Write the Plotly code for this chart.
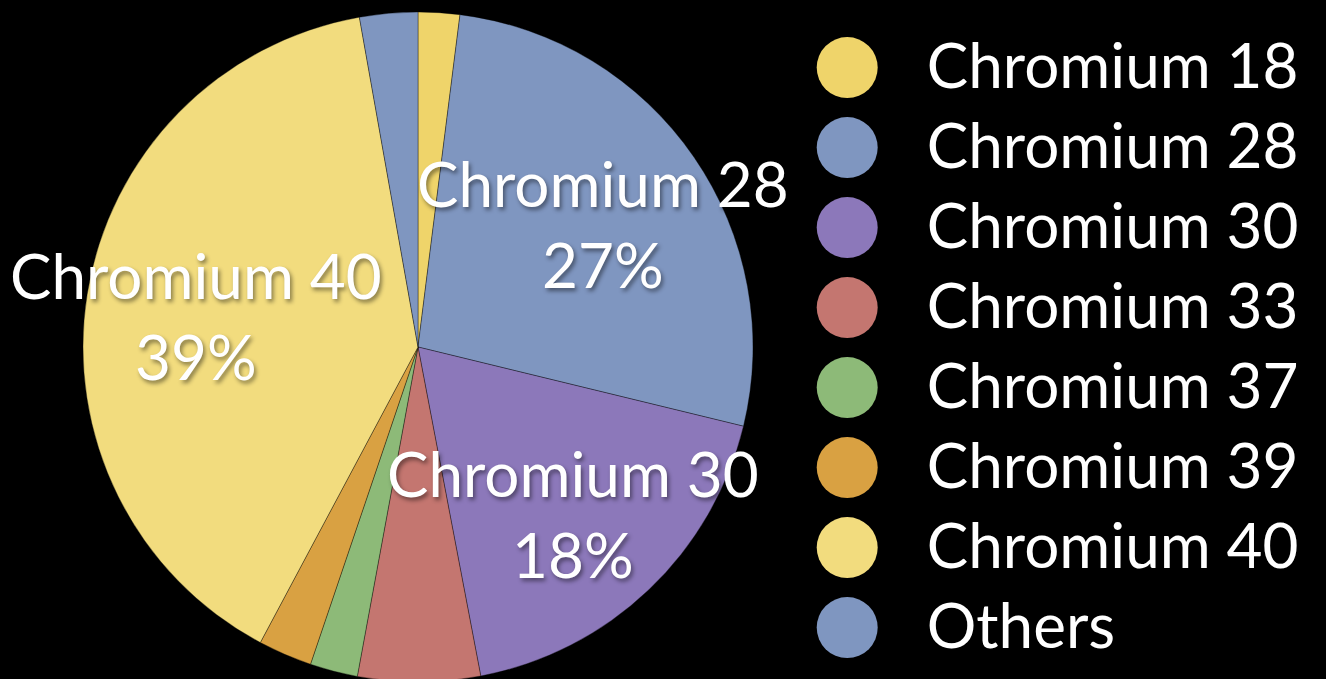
import math

import plotly.graph_objects as go

labels = ["Chromium 18", "Chromium 28", "Chromium 30", "Chromium 33",
          "Chromium 37", "Chromium 39", "Chromium 40", "Others"]
shares = [2.0, 26.8, 18.2, 5.9, 2.3, 2.6, 39.4, 2.8]
colors = ["#EFD46A", "#7F96C0", "#8C78BA", "#C47670",
          "#8DBA78", "#D9A142", "#F2DC7E", "#7F96C0"]

W, H = 1326, 682
TOP = 12
FONT = "Lato, 'Open Sans', sans-serif"
TEXT_SIZE = 62

fig = go.Figure()

fig.add_trace(go.Pie(
    labels=labels,
    values=shares,
    sort=False,
    direction="clockwise",
    rotation=0,
    marker=dict(colors=colors, line=dict(color="rgba(0,0,0,0.35)", width=1)),
    textinfo="none",
    hoverinfo="label+percent",
    showlegend=False,
    domain=dict(x=[0, 836 / W], y=[0, 1]),
))

# slice labels for the big slices, placed along each slice's mid-angle
total = sum(shares)
cx, cy = 418, TOP + (H - TOP) / 2
radius = (H - TOP) / 2
start = 0.0
for name, v in zip(labels, shares):
    frac = v / total
    mid = (start + frac / 2) * 2 * math.pi
    start += frac
    if frac < 0.10:
        continue
    px = cx + 0.67 * radius * math.sin(mid)
    py = cy - 0.67 * radius * math.cos(mid) + 4
    fig.add_annotation(
        x=px / W, y=1 - (py - TOP) / (H - TOP),
        xref="paper", yref="paper",
        xanchor="center", yanchor="middle",
        text=f"{name}<br>{round(frac * 100)}%",
        showarrow=False,
        align="center",
        font=dict(family=FONT, size=TEXT_SIZE, color="white",
                  shadow="2px 3px 4px rgba(0,0,0,0.45)"),
    )

# legend drawn as circle markers plus text
fig.add_trace(go.Scatter(
    x=[0.05] * len(labels), y=labels, mode="markers",
    marker=dict(size=61, color=colors, line=dict(width=0)),
    cliponaxis=False, hoverinfo="skip", showlegend=False,
))
fig.add_trace(go.Scatter(
    x=[0.208] * len(labels), y=labels, mode="text", yaxis="y2",
    text=labels, textposition="middle right",
    textfont=dict(family=FONT, size=TEXT_SIZE, color="white"),
    cliponaxis=False, hoverinfo="skip", showlegend=False,
))

fig.update_layout(
    width=W, height=H,
    margin=dict(l=0, r=0, t=TOP, b=0),
    paper_bgcolor="black",
    plot_bgcolor="black",
    xaxis=dict(domain=[822 / W, 1], range=[0, 1], visible=False, fixedrange=True),
    yaxis=dict(type="category", categoryarray=labels, range=[7.68, -0.695],
               visible=False, fixedrange=True),
    yaxis2=dict(type="category", categoryarray=labels, range=[7.6175, -0.7575],
                overlaying="y", visible=False, fixedrange=True),
)

fig.write_html(
    "out.html",
    config={"displayModeBar": False},
    post_script="document.body.style.margin='0';"
                "document.body.style.background='black';"
                "document.body.style.overflow='hidden';",
)
